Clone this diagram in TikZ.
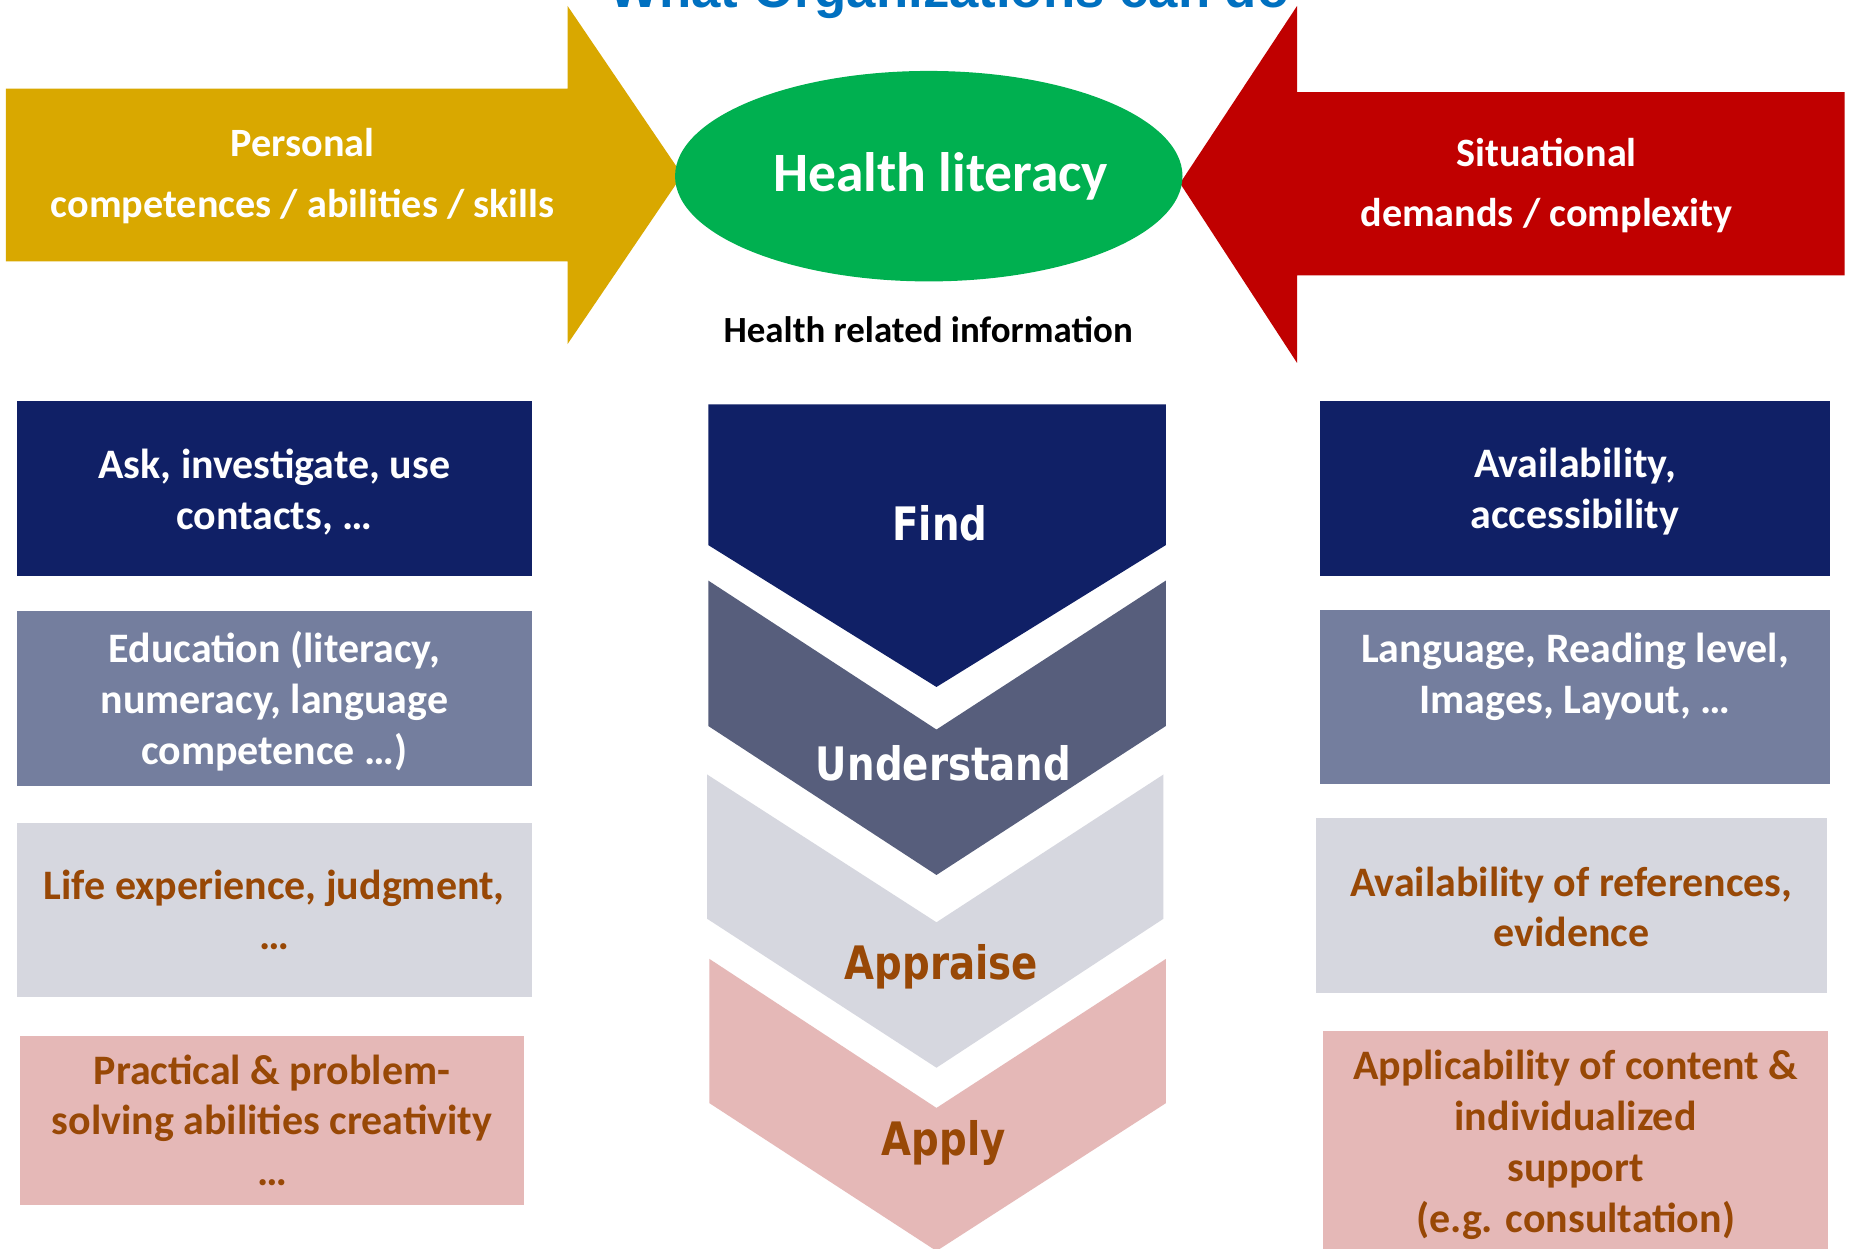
\documentclass[tikz,border=0pt]{standalone}
\usepackage{fontspec}
\setmainfont{Carlito}
\newfontfamily\chevf{DejaVu Sans}[FakeStretch=0.84]
\newfontfamily\titlef{Liberation Sans}
\usetikzlibrary{shapes.geometric}
\definecolor{goldc}{RGB}{217,168,0}
\definecolor{redc}{RGB}{192,0,0}
\definecolor{greenc}{RGB}{0,176,80}
\definecolor{navyc}{RGB}{16,32,102}
\definecolor{slatec}{RGB}{87,94,124}
\definecolor{slatebox}{RGB}{116,126,158}
\definecolor{greyc}{RGB}{214,215,223}
\definecolor{pinkc}{RGB}{229,184,183}
\definecolor{brownc}{RGB}{152,72,6}
\definecolor{titlec}{RGB}{0,112,192}
\tikzset{
  infobox/.style={rectangle, draw=none, inner sep=0pt},
  boxtext/.style={inner sep=0pt, align=center, font=\fontsize{35.5}{43}\selectfont\bfseries},
  arrowtext/.style={align=center, text=white, font=\fontsize{34}{51}\selectfont\bfseries},
  chevtext/.style={font=\chevf\fontsize{39}{44}\selectfont\bfseries, inner sep=0pt, anchor=base},
}
\begin{document}
\begin{tikzpicture}[x=1pt,y=-1pt]
\useasboundingbox (0,0) rectangle (1568,1056);
\clip (0,0) rectangle (1568,1056);
\fill[white] (0,0) rectangle (1568,1056);

% title (cut off at the top)
\node[anchor=base, text=titlec, font=\titlef\fontsize{44.6}{50}\selectfont\bfseries, inner sep=0pt] (title) at (803,6) {What Organizations can do};

% yellow arrow
\fill[goldc] (5,75) -- (480,75) -- (480,5) -- (577,148) -- (480,291) -- (480,221) -- (5,221) -- cycle;
\node[arrowtext] (personal) at (256,149) {Personal\\competences / abilities / skills};

% red arrow
\fill[redc] (1560,78) -- (1097,78) -- (1097,5) -- (998,155) -- (1097,307) -- (1097,233) -- (1560,233) -- cycle;
\node[arrowtext] (situational) at (1308,157) {Situational\\demands / complexity};

% ellipse
\node[ellipse, fill=greenc, minimum width=425, minimum height=178, inner sep=0pt,
      text=white, font=\fontsize{47}{50}\selectfont\bfseries] (hl) at (785.5,149) {\hspace*{20pt}Health literacy};

\node[font=\fontsize{31.2}{36}\selectfont\bfseries, inner sep=0pt] (hri) at (785,279) {Health related information};

% chevrons
\fill[navyc] (599,342) -- (986,342) -- (986,461) -- (792,581) -- (599,461) -- cycle;
\fill[slatec] (599,491) -- (792,617) -- (986,491) -- (986,614) -- (792,740) -- (599,614) -- cycle;
\fill[greyc] (598,655) -- (792,780) -- (984,655) -- (984,777) -- (792,903) -- (598,777) -- cycle;
\fill[pinkc] (600,811) -- (792,937) -- (986,811) -- (986,933) -- (792,1058) -- (600,933) -- cycle;
\node[chevtext, text=white] (find) at (795,457) {Find};
\node[chevtext, text=white] (understand) at (798,660) {Understand};
\node[chevtext, text=brownc] (appraise) at (796,828) {Appraise};
\node[chevtext, text=brownc] (apply) at (798,977) {Apply};

% left boxes
\node[infobox, fill=navyc, minimum width=436, minimum height=148] (l1) at (232,413) {};
\node[boxtext, text=white] (l1t) at (232,416) {Ask, investigate, use\\contacts, …};
\node[infobox, fill=slatebox, minimum width=436, minimum height=148] (l2) at (232,591) {};
\node[boxtext, text=white] (l2t) at (232,593) {Education (literacy,\\numeracy, language\\competence …)};
\node[infobox, fill=greyc, minimum width=436, minimum height=147] (l3) at (232,769.5) {};
\node[boxtext, text=brownc] (l3t) at (232,769.5) {Life experience, judgment,\\…};
\node[infobox, fill=pinkc, minimum width=426, minimum height=143] (l4) at (230,947.5) {};
\node[boxtext, text=brownc] (l4t) at (230,947.5) {Practical \& problem-\\solving abilities creativity\\…};

% right boxes
\node[infobox, fill=navyc, minimum width=432, minimum height=148] (r1) at (1332,413) {};
\node[boxtext, text=white] (r1t) at (1332,416) {Availability,\\accessibility};
\node[infobox, fill=slatebox, minimum width=432, minimum height=147] (r2) at (1332,589.5) {};
\node[boxtext, text=white] (r2t) at (1332,572.5) {Language, Reading level,\\Images, Layout, …};
\node[infobox, fill=greyc, minimum width=432, minimum height=148] (r3) at (1329,766) {};
\node[boxtext, text=brownc] (r3t) at (1329,767) {Availability of references,\\evidence};
\node[infobox, fill=pinkc, minimum width=427, minimum height=188] (r4) at (1332.5,966) {};
\node[boxtext, text=brownc] (r4t) at (1332.5,968) {Applicability of content \&\\individualized\\support\\(e.g. consultation)};
\end{tikzpicture}
\end{document}
